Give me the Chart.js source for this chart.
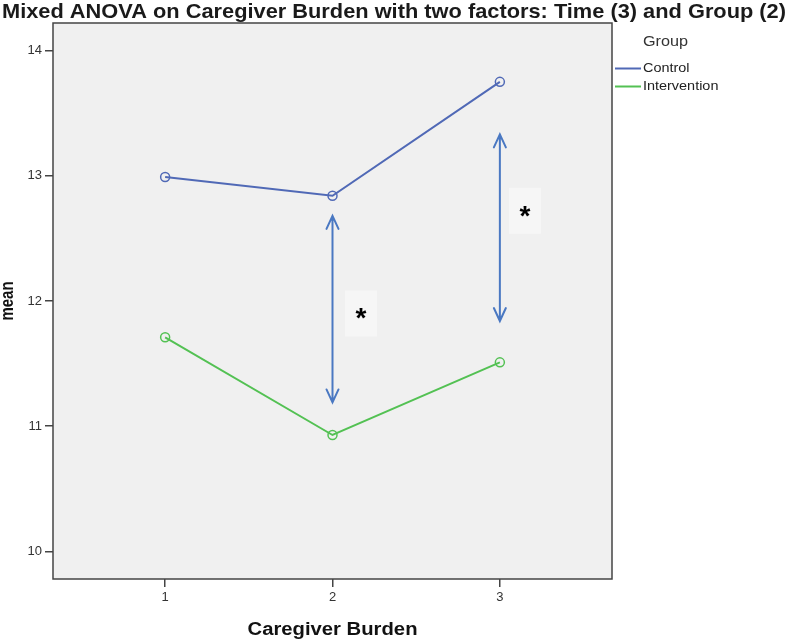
<!DOCTYPE html>
<html>
<head>
<meta charset="utf-8">
<script src="https://cdn.jsdelivr.net/npm/chart.js@4.4.1/dist/chart.umd.min.js"></script>
<style>
  html, body { margin: 0; padding: 0; background: #ffffff; }
  canvas { display: block; }
</style>
</head>
<body>
<canvas id="c" width="788" height="641"></canvas>
<script>
// ---- data ----
const categories = [1, 2, 3];
const controlMeans = [12.99, 12.84, 13.75];
const interventionMeans = [11.71, 10.93, 11.51];
const yTicks = [10, 11, 12, 13, 14];
const seriesNames = ['Control', 'Intervention'];
const legendTitle = 'Group';
const chartTitle = 'Mixed ANOVA on Caregiver Burden with two factors: Time (3) and Group (2)';
const xTitle = 'Caregiver Burden';
const yTitle = 'mean';
// significance arrows (time point, upper end, lower end) and asterisks
const arrowTimes = [2, 3];
const arrowTops = [12.68, 13.33];
const arrowBottoms = [11.19, 11.84];
const starTimes = [2.17, 3.15];
const starMeans = [11.90, 12.72];

const BLUE = '#5069b6';
const GREEN = '#53c153';
const ARROW = '#4a78c2';
const FONT = '"Liberation Sans", Arial, sans-serif';

// draw text stretched horizontally so that it spans a given width
function stretchedText(ctx, text, cx, cy, font, width, color) {
  ctx.save();
  ctx.font = font;
  const w = ctx.measureText(text).width;
  const sx = width / w;
  ctx.translate(cx, cy);
  ctx.scale(sx, 1);
  ctx.fillStyle = color;
  ctx.textAlign = 'center';
  ctx.textBaseline = 'middle';
  ctx.fillText(text, 0, 0);
  ctx.restore();
}

const decor = {
  id: 'decor',
  beforeDraw(chart) {
    const {ctx, chartArea: a} = chart;
    ctx.save();
    ctx.fillStyle = '#f0f0f0';
    ctx.fillRect(a.left, a.top, a.right - a.left, a.bottom - a.top);
    ctx.restore();
  },
  beforeDatasetsDraw(chart) {
    const {ctx, scales: {x, y}} = chart;
    ctx.save();
    // asterisk boxes
    starTimes.forEach((t, i) => {
      const px = x.getPixelForValue(t), py = y.getPixelForValue(starMeans[i]);
      ctx.fillStyle = '#f6f6f6';
      ctx.fillRect(px - 16, py - 23, 32, 46);
      ctx.fillStyle = '#000';
      ctx.font = 'bold 28px ' + FONT;
      ctx.textAlign = 'center';
      ctx.textBaseline = 'middle';
      ctx.fillText('*', px, py + 6);
    });
    // arrows
    ctx.strokeStyle = ARROW;
    ctx.lineWidth = 2;
    ctx.lineCap = 'round';
    arrowTimes.forEach((t, i) => {
      const px = x.getPixelForValue(t);
      const top = y.getPixelForValue(arrowTops[i]);
      const bot = y.getPixelForValue(arrowBottoms[i]);
      ctx.beginPath();
      ctx.moveTo(px, top); ctx.lineTo(px, bot);
      ctx.moveTo(px - 6, top + 13); ctx.lineTo(px, top); ctx.lineTo(px + 6, top + 13);
      ctx.moveTo(px - 6, bot - 13); ctx.lineTo(px, bot); ctx.lineTo(px + 6, bot - 13);
      ctx.stroke();
    });
    ctx.restore();
  },
  afterDraw(chart) {
    const {ctx, chartArea: a} = chart;
    ctx.save();
    ctx.strokeStyle = '#444';
    ctx.lineWidth = 1.5;
    ctx.strokeRect(a.left, a.top, a.right - a.left, a.bottom - a.top);

    // titles
    stretchedText(ctx, chartTitle, 394, 12, 'bold 21px ' + FONT, 784, '#1a1a1a');
    stretchedText(ctx, xTitle, (a.left + a.right) / 2, 630, 'bold 18px ' + FONT, 170, '#111');
    // rotated y title
    ctx.save();
    ctx.translate(8, (a.top + a.bottom) / 2);
    ctx.scale(1.25, 1);
    ctx.rotate(-Math.PI / 2);
    ctx.font = 'bold 15px ' + FONT;
    ctx.fillStyle = '#111';
    ctx.textAlign = 'center';
    ctx.textBaseline = 'middle';
    ctx.fillText(yTitle, 0, 0);
    ctx.restore();

    // legend
    const lx = a.right + 3;
    ctx.textAlign = 'left';
    ctx.textBaseline = 'middle';
    ctx.save();
    ctx.translate(lx + 28, a.top + 19);
    ctx.scale(1.08, 1);
    ctx.font = '15px ' + FONT;
    ctx.fillStyle = '#333';
    ctx.fillText(legendTitle, 0, 0);
    ctx.restore();
    chart.data.datasets.forEach((ds, i) => {
      const ly = a.top + 45.5 + i * 18;
      ctx.strokeStyle = ds.borderColor;
      ctx.lineWidth = 2;
      ctx.beginPath();
      ctx.moveTo(lx, ly); ctx.lineTo(lx + 26, ly);
      ctx.stroke();
      ctx.save();
      ctx.translate(lx + 28, ly);
      ctx.scale(1.11, 1);
      ctx.font = '13px ' + FONT;
      ctx.fillStyle = '#222';
      ctx.fillText(ds.label, 0, 0);
      ctx.restore();
    });
    ctx.restore();
  }
};

function series(values, color, name) {
  return {
    label: name,
    data: categories.map((c, i) => ({x: c, y: values[i]})),
    borderColor: color,
    borderWidth: 2,
    pointRadius: 4.5,
    pointHoverRadius: 4.5,
    pointBorderWidth: 1.5,
    pointBorderColor: color,
    pointBackgroundColor: 'rgba(0,0,0,0)',
    tension: 0
  };
}

new Chart(document.getElementById('c'), {
  type: 'line',
  data: {
    datasets: [
      series(controlMeans, BLUE, seriesNames[0]),
      series(interventionMeans, GREEN, seriesNames[1])
    ]
  },
  options: {
    responsive: false,
    animation: false,
    devicePixelRatio: 1,
    layout: { padding: { top: 23, right: 176, left: 0, bottom: 0 } },
    plugins: {
      legend: { display: false },
      tooltip: { enabled: false },
      title: { display: false }
    },
    scales: {
      x: {
        type: 'linear',
        min: 0.33, max: 3.67,
        afterBuildTicks: s => { s.ticks = categories.map(v => ({value: v})); },
        afterFit: s => { s.height = 62; },
        grid: { drawOnChartArea: false, drawTicks: true, tickLength: 8, color: '#444', lineWidth: 1.5 },
        border: { display: false },
        ticks: { color: '#333', font: { family: FONT, size: 13 }, padding: 3, maxRotation: 0, autoSkip: false },
        title: { display: false }
      },
      y: {
        type: 'linear',
        min: 9.78, max: 14.22,
        afterBuildTicks: s => { s.ticks = yTicks.map(v => ({value: v})); },
        afterFit: s => { s.width = 53; },
        grid: { drawOnChartArea: false, drawTicks: true, tickLength: 8, color: '#444', lineWidth: 1.5 },
        border: { display: false },
        ticks: { color: '#333', font: { family: FONT, size: 13 }, padding: 3, autoSkip: false },
        title: { display: false }
      }
    }
  },
  plugins: [decor]
});
</script>
</body>
</html>
